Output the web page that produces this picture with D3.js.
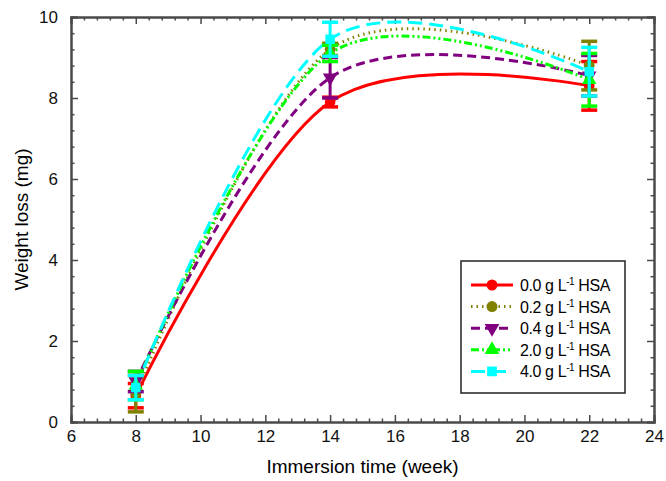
<!DOCTYPE html>
<html>
<head>
<meta charset="utf-8">
<script src="https://cdn.jsdelivr.net/npm/d3@7"></script>
<style>
  body { margin: 0; background: #fff; }
  text { font-family: "Liberation Sans", Arial, sans-serif; }
</style>
</head>
<body>
<div id="chart"></div>
<script>
let margin = { top: 17, right: 12, bottom: 59, left: 71 },
    width = 666,
    height = 481;

// data
let weeks = [8, 14, 22];
let labels = ["0.0", "0.2", "0.4", "2.0", "4.0"];
let hsa00 = [0.65, 7.9, 8.3];
let hsa02 = [0.7, 9.2, 8.8];
let hsa04 = [1.0, 8.5, 8.55];
let hsa20 = [0.9, 9.1, 8.45];
let hsa40 = [0.85, 9.45, 8.65];
let err00 = [0.3, 0.12, 0.6];
let err02 = [0.45, 0.15, 0.6];
let err04 = [0.25, 0.5, 0.5];
let err20 = [0.35, 0.2, 0.65];
let err40 = [0.3, 0.42, 0.6];
let xTicks = [6, 8, 10, 12, 14, 16, 18, 20, 22, 24];
let yTicks = [0, 2, 4, 6, 8, 10];

let colors = ['#ff0000', '#808000', '#800080', '#00ff00', '#00ffff'];
let dashes = [null, '1.5,4', '9,5', '8,3,2,3,2,3', '14,7'];
let symbols = [d3.symbolCircle, d3.symbolCircle, d3.symbolTriangle, d3.symbolTriangle, d3.symbolSquare];
let rotations = [0, 0, 180, 0, 0];

let series = [hsa00, hsa02, hsa04, hsa20, hsa40].map((vals, i) => ({
    label: labels[i],
    values: vals,
    errors: [err00, err02, err04, err20, err40][i],
    color: colors[i],
    dash: dashes[i],
    symbol: symbols[i],
    rot: rotations[i]
}));

let svg = d3.select("#chart")
    .append("svg")
    .attr("width", width)
    .attr("height", height);

let x = d3.scaleLinear().domain([6, 24]).range([margin.left, width - margin.right]);
let y = d3.scaleLinear().domain([0, 10]).range([height - margin.bottom, margin.top]);

let axisColor = '#4a4a4a';

let minorX = d3.range(6, 24.01, 0.4).filter(v => Math.abs(v / 2 - Math.round(v / 2)) > 0.01);
let minorY = d3.range(0, 10.01, 0.4).filter(v => Math.abs(v / 2 - Math.round(v / 2)) > 0.01);

function styleAxis(g) {
    g.select(".domain").attr("stroke", axisColor).attr("stroke-width", 2);
    g.selectAll(".tick line").attr("stroke", axisColor).attr("stroke-width", 1.5);
    g.selectAll(".tick text").attr("fill", "#111").style("font-size", "17px");
}

// bottom
svg.append("g")
    .attr("transform", "translate(0," + y(0) + ")")
    .call(d3.axisBottom(x).tickValues(minorX).tickSize(-3.5).tickFormat(""))
    .call(styleAxis);
svg.append("g")
    .attr("transform", "translate(0," + y(0) + ")")
    .call(d3.axisBottom(x).tickValues(xTicks).tickSize(-7).tickPadding(8).tickFormat(d3.format("d")))
    .call(styleAxis);
// top
svg.append("g")
    .attr("transform", "translate(0," + y(10) + ")")
    .call(d3.axisTop(x).tickValues(minorX).tickSize(-3.5).tickFormat(""))
    .call(styleAxis);
svg.append("g")
    .attr("transform", "translate(0," + y(10) + ")")
    .call(d3.axisTop(x).tickValues(xTicks).tickSize(-7).tickFormat(""))
    .call(styleAxis);
// left
svg.append("g")
    .attr("transform", "translate(" + x(6) + ",0)")
    .call(d3.axisLeft(y).tickValues(minorY).tickSize(-3.5).tickFormat(""))
    .call(styleAxis);
svg.append("g")
    .attr("transform", "translate(" + x(6) + ",0)")
    .call(d3.axisLeft(y).tickValues(yTicks).tickSize(-7).tickPadding(13).tickFormat(d3.format("d")))
    .call(styleAxis);
// right
svg.append("g")
    .attr("transform", "translate(" + x(24) + ",0)")
    .call(d3.axisRight(y).tickValues(minorY).tickSize(-3.5).tickFormat(""))
    .call(styleAxis);
svg.append("g")
    .attr("transform", "translate(" + x(24) + ",0)")
    .call(d3.axisRight(y).tickValues(yTicks).tickSize(-7).tickFormat(""))
    .call(styleAxis);

// axis titles
svg.append("text")
    .attr("x", (x(6) + x(24)) / 2)
    .attr("y", 473)
    .attr("text-anchor", "middle")
    .style("font-size", "19px")
    .text("Immersion time (week)");

svg.append("text")
    .attr("transform", "translate(28," + ((y(0) + y(10)) / 2) + ") rotate(-90)")
    .attr("text-anchor", "middle")
    .style("font-size", "19px")
    .text("Weight loss (mg)");

let line = d3.line()
    .x((d, i) => x(weeks[i]))
    .y(d => y(d))
    .curve(d3.curveCardinal);

// lines
series.forEach(s => {
    svg.append("path")
        .datum(s.values)
        .attr("d", line)
        .attr("fill", "none")
        .attr("stroke", s.color)
        .attr("stroke-width", 3)
        .attr("stroke-dasharray", s.dash);
});

// error bars and markers
series.forEach(s => {
    let g = svg.append("g");
    s.values.forEach((v, i) => {
        let cx = x(weeks[i]);
        let lo = y(v - s.errors[i]), hi = y(v + s.errors[i]);
        g.append("line")
            .attr("x1", cx).attr("x2", cx)
            .attr("y1", lo).attr("y2", hi)
            .attr("stroke", s.color).attr("stroke-width", 3);
        [lo, hi].forEach(yy => {
            g.append("line")
                .attr("x1", cx - 8).attr("x2", cx + 8)
                .attr("y1", yy).attr("y2", yy)
                .attr("stroke", s.color).attr("stroke-width", 3.5);
        });
        g.append("path")
            .attr("d", d3.symbol().type(s.symbol).size(90)())
            .attr("transform", "translate(" + cx + "," + y(v) + ") rotate(" + s.rot + ")")
            .attr("fill", s.color);
    });
});

// legend
let lg = svg.append("g").attr("transform", "translate(461,261)");
lg.append("rect")
    .attr("width", 164).attr("height", 132)
    .attr("fill", "#fff")
    .attr("stroke", "#222").attr("stroke-width", 1.5);

series.forEach((s, i) => {
    let ly = 24 + i * 21.6;
    lg.append("line")
        .attr("x1", 10).attr("x2", 52)
        .attr("y1", ly).attr("y2", ly)
        .attr("stroke", s.color)
        .attr("stroke-width", 3)
        .attr("stroke-dasharray", s.dash);
    lg.append("path")
        .attr("d", d3.symbol().type(s.symbol).size(95)())
        .attr("transform", "translate(31," + ly + ") rotate(" + s.rot + ")")
        .attr("fill", s.color);
    let t = lg.append("text")
        .attr("x", 59)
        .attr("y", ly + 6)
        .style("font-size", "16px")
        .style("letter-spacing", "-0.4px");
    t.append("tspan").text(s.label + " g L");
    t.append("tspan").attr("dy", -6).style("font-size", "10px").text("-1");
    t.append("tspan").attr("dy", 6).text(" HSA");
});
</script>
</body>
</html>
